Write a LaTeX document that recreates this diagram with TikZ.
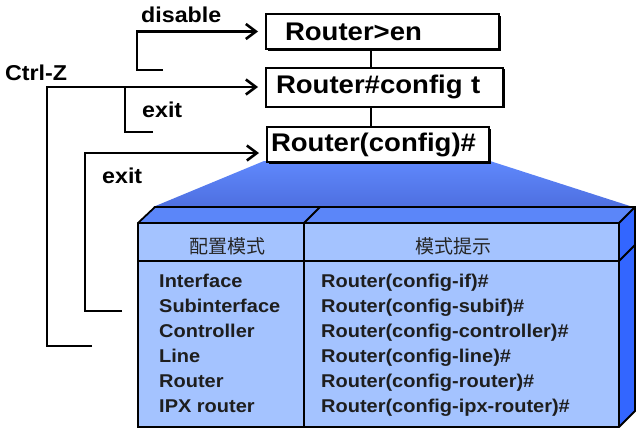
\documentclass[tikz,border=0pt]{standalone}
\usepackage{fontspec}
\setmainfont{Liberation Sans}[FakeStretch=1.08]
\newfontfamily\cjk{Noto Sans CJK SC}
\usetikzlibrary{arrows.meta,shadows}
\definecolor{frontc}{HTML}{A4C3FF}
\definecolor{topc}{HTML}{5B86F9}
\definecolor{rightc}{HTML}{3366FF}
\definecolor{wedgeT}{HTML}{4E6FE0}
\definecolor{wedgeB}{HTML}{5F88FC}
\definecolor{txt}{HTML}{1E1E1E}
\begin{document}
\begin{tikzpicture}[x=1pt,y=-1pt,
  rbox/.style={draw=black, line width=2pt, fill=white, align=left, anchor=north west,
    inner ysep=0pt, font=\bfseries\fontsize{25.5}{30}\selectfont,
    drop shadow={shadow xshift=1.8pt, shadow yshift=-1.8pt, fill=black, opacity=1}},
  lbl/.style={anchor=base west, inner sep=0pt, font=\bfseries\fontsize{21.5}{24}\selectfont},
  rowtxt/.style={anchor=base west, inner sep=0pt, text=txt, font=\bfseries\fontsize{18.5}{22}\selectfont},
  hdr/.style={inner sep=0pt, text=black!85, font=\cjk\fontsize{19}{22}\selectfont},
  tline/.style={line width=1.8pt, line join=miter},
  conn/.style={line width=2.6pt, line join=miter},
  arr/.style={conn, -{Straight Barb[length=10pt,width=15pt]}, shorten >=7pt}]
\useasboundingbox (0,0) rectangle (642,434);

% light wedge from the config box to the table
\shade[top color=wedgeB, bottom color=wedgeT] (264,161) -- (490,161) -- (633,207) -- (153,207) -- cycle;

% 3D table
\fill[topc] (138,223) -- (155,207) -- (635,207) -- (619,223) -- cycle;
\fill[rightc] (619,223) -- (635,207) -- (635,411) -- (619,427) -- cycle;
\fill[frontc] (138,223) rectangle (619,427);
\draw[tline] (138,223) -- (155,207) -- (635,207) -- (635,411) -- (619,427) -- (138,427) -- cycle;
\draw[tline] (138,223) -- (619,223) -- (635,207);
\draw[tline] (619,223) -- (619,427);
\draw[tline] (138,261) -- (619,261) -- (635,245);
\draw[tline] (304,427) -- (304,223) -- (320,207);

\node[hdr] (h1) at (227,246) {配置模式};
\node[hdr] (h2) at (453,246) {模式提示};

\foreach \t [count=\i] in {{Interface},{Subinterface},{Controller},{Line},{Router},{IPX router}}
  \node[rowtxt] (l\i) at (159,{287+25.1*(\i-1)}) {\t};
\foreach \t [count=\i] in {{Router(config-if)\#},{Router(config-subif)\#},{Router(config-controller)\#},{Router(config-line)\#},{Router(config-router)\#},{Router(config-ipx-router)\#}}
  \node[rowtxt] (r\i) at (321,{287+25.1*(\i-1)}) {\t};

% prompt boxes
\node[rbox, minimum height=35pt, text width=195pt, inner xsep=19pt] (b1) at (265,13) {Router>en};
\node[rbox, minimum height=39pt, text width=217pt, inner xsep=10pt] (b2) at (265,66.5) {Router\#config t};
\node[rbox, minimum height=35pt, text width=214pt, inner xsep=4pt] (b3) at (266,126) {Router(config)\#};

\coordinate (vx) at (371,0);
\draw[line width=2pt] (b1.south -| vx) -- (b2.north -| vx);
\draw[line width=2pt] (b2.south -| vx) -- (b3.north -| vx);

% labels
\node[lbl] (ldis) at (141,22) {disable};
\node[lbl] (lctrl) at (5,80) {Ctrl-Z};
\node[lbl] (lex1) at (142,117) {exit};
\node[lbl] (lex2) at (102,183) {exit};

% connectors
\coordinate (d0) at (163,70);
\coordinate (d1) at (137,70);
\draw[arr] (d0) -- (d1) |- (b1.west);

\coordinate (c0) at (92,346);
\coordinate (c1) at (47,346);
\draw[arr] (c0) -- (c1) |- (b2.west);

\coordinate (e0) at (153,132);
\coordinate (e1) at (125,132);
\coordinate (j1) at (125,86);
\draw[conn] (e0) -- (e1) -- (j1);

\coordinate (x0) at (122,311);
\coordinate (x1) at (85,311);
\coordinate (t3) at ([yshift=-8.5pt]b3.west);
\draw[arr] (x0) -- (x1) |- (t3);
\end{tikzpicture}
\end{document}
